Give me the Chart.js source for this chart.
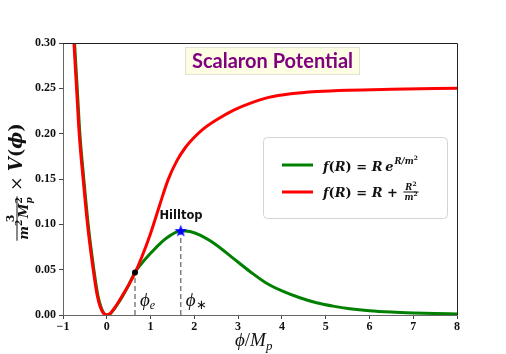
<!DOCTYPE html>
<html>
<head>
<meta charset="utf-8">
<script src="https://cdn.jsdelivr.net/npm/chart.js@4.4.1/dist/chart.umd.min.js"></script>
<style>
  html, body { margin: 0; padding: 0; background: #fff; }
  #chart { display: block; }
</style>
</head>
<body>
<canvas id="chart" width="506" height="354"></canvas>
<script>
// values
const redPhi = [-0.8, -0.75, -0.69, -0.63, -0.54, -0.44, -0.31, -0.22, -0.15, -0.08, 0, 0.08, 0.15, 0.25, 0.34, 0.5, 0.65, 0.8, 1.0, 1.2, 1.4, 1.6, 1.8, 2.0, 2.2, 2.5, 2.9, 3.3, 3.7, 4.2, 4.8, 5.5, 6.5, 8];
const redV   = [0.35, 0.30, 0.25, 0.20, 0.15, 0.10, 0.05, 0.022, 0.009, 0.0022, 0, 0.0018, 0.006, 0.013, 0.02, 0.033, 0.047, 0.064, 0.09, 0.12, 0.149, 0.17, 0.185, 0.196, 0.205, 0.215, 0.226, 0.234, 0.24, 0.244, 0.2465, 0.248, 0.249, 0.25];
const greenPhi = [-0.78, -0.735, -0.675, -0.615, -0.525, -0.425, -0.295, -0.205, -0.135, -0.07, 0, 0.09, 0.16, 0.26, 0.35, 0.5, 0.645, 0.8, 1.0, 1.2, 1.4, 1.69, 1.9, 2.13, 2.51, 2.89, 3.27, 3.65, 4.03, 4.41, 4.79, 5.2, 5.55, 6.0, 6.5, 7.0, 7.5, 8];
const greenV   = [0.35, 0.30, 0.25, 0.20, 0.15, 0.10, 0.05, 0.022, 0.009, 0.0022, 0, 0.0018, 0.006, 0.013, 0.02, 0.033, 0.047, 0.057, 0.068, 0.078, 0.086, 0.093, 0.092, 0.088, 0.077, 0.0625, 0.048, 0.035, 0.026, 0.019, 0.0135, 0.0095, 0.007, 0.0048, 0.0033, 0.0023, 0.0016, 0.0011];
const phiE = 0.645, vE = 0.047;
const phiStar = 1.69, vStar = 0.093;
const xMin = -1, xMax = 8, xStep = 1;
const yMin = 0, yMax = 0.30, yStep = 0.05;

const pts = (xs, ys) => xs.map((x, i) => ({ x, y: ys[i] }));

function starImage(size, color) {
  const c = document.createElement('canvas');
  c.width = c.height = size;
  const g = c.getContext('2d');
  g.fillStyle = color;
  g.beginPath();
  for (let i = 0; i < 10; i++) {
    const r = i % 2 ? size * 0.21 : size / 2;
    const a = -Math.PI / 2 + i * Math.PI / 5;
    g.lineTo(size / 2 + r * Math.cos(a), size / 2 + 0.6 + r * Math.sin(a));
  }
  g.closePath();
  g.fill();
  return c;
}

const SERIF = '"Liberation Serif"';
const DJ = '"DejaVu Serif"';
const it = (s, w = 'bold', fam = SERIF) => `${w} italic ${s}px ${fam}`;
const up = (s, w = 'bold', fam = SERIF) => `${w} ${s}px ${fam}`;

// draws [text, font, dy, noAdvance] runs left to right, returns end x
function runs(g, x, y, parts, measureOnly) {
  for (const [t, f, dy = 0, stay = false] of parts) {
    g.font = f;
    if (!measureOnly) g.fillText(t, x, y + dy);
    if (!stay) x += g.measureText(t).width;
  }
  return x;
}
const runsWidth = (g, parts) => runs(g, 0, 0, parts, true);

function fraction(g, x, y, num, den, gapUp, gapDown, measureOnly) {
  const wn = runsWidth(g, num), wd = runsWidth(g, den);
  const w = Math.max(wn, wd) + 2;
  if (!measureOnly) {
    runs(g, x + (w - wn) / 2, y - gapUp, num);
    runs(g, x + (w - wd) / 2, y + gapDown, den);
    g.fillRect(x, y - 0.5, w, 1);
  }
  return x + w;
}

const decor = {
  id: 'decor',
  afterDraw(chart) {
    const g = chart.ctx, a = chart.chartArea;
    const xs = chart.scales.x;
    g.save();
    // top and right spines
    g.strokeStyle = '#222';
    g.lineWidth = 1;
    g.beginPath();
    g.moveTo(a.left, a.top + 0.5); g.lineTo(a.right + 0.5, a.top + 0.5); g.lineTo(a.right + 0.5, a.bottom);
    g.stroke();

    // title box
    g.fillStyle = '#fdfde4';
    g.strokeStyle = '#e2e2d2';
    g.fillRect(185, 47, 175, 28);
    g.strokeRect(185.5, 47.5, 174, 27);
    g.fillStyle = '#800080';
    g.font = 'bold 20px Lato';
    g.textBaseline = 'alphabetic';
    g.textAlign = 'center';
    g.fillText('Scalaron Potential', 272.5, 68);
    g.textAlign = 'left';

    // legend box
    g.fillStyle = '#fff';
    g.strokeStyle = '#d4d4d4';
    g.beginPath();
    g.roundRect(263.5, 137.5, 184, 81, 4);
    g.fill(); g.stroke();
    g.lineWidth = 3;
    g.strokeStyle = '#008000';
    g.beginPath(); g.moveTo(282, 165); g.lineTo(313, 165); g.stroke();
    g.strokeStyle = '#ff0000';
    g.beginPath(); g.moveTo(282, 192); g.lineTo(313, 192); g.stroke();
    g.fillStyle = '#111';
    const L = (t, s) => [t, it(s, 'bold', DJ)];
    const U = (t, s) => [t, up(s, 'bold', DJ)];
    let x = runs(g, 323, 171, [L('f', 13), U('(', 13), L('R', 13), U(')', 13), U(' = ', 13), L('R', 13), U(' ', 8), L('e', 13)]);
    runs(g, x + 1, 171, [[...L('R/m', 8.5), -7], [...U('2', 6), -11]]);
    x = runs(g, 323, 197, [L('f', 13), U('(', 13), L('R', 13), U(')', 13), U(' = ', 13), L('R', 13), U(' + ', 13)]);
    fraction(g, x + 1, 192, [L('R', 8.5), [...U('2', 6), -4]], [L('m', 8.5), [...U('2', 6), -4]], 2, 8);

    // dashed guide labels
    const pe = xs.getPixelForValue(phiE), ps = xs.getPixelForValue(phiStar);
    runs(g, pe + 5, 306, [['ϕ', it(19, 'normal')], ['e', it(12, 'normal'), 3]]);
    runs(g, ps + 5, 306, [['ϕ', it(19, 'normal')], ['∗', up(13, 'normal'), 3]]);
    g.font = 'bold 11.5px "DejaVu Sans"';
    g.textAlign = 'center';
    g.fillText('Hilltop', 181, 219);
    g.textAlign = 'left';

    // x axis title
    runs(g, 235, 346, [['ϕ', it(19, 'normal')], ['/', up(19, 'normal')], ['M', it(19, 'normal')], ['p', it(13, 'normal'), 4]]);

    // y axis title, rotated
    g.translate(22, 182);
    g.rotate(-Math.PI / 2);
    const num = [U('3', 11)];
    const den = [L('m', 13), [...U('2', 9), -6], U(' ', 5), L('M', 13), [...U('2', 9), -6, true], [...L('p', 9), 4]];
    const rest = [[' × ', up(17, 'normal', DJ)], L('V', 18), U('(', 18), L('ϕ', 18), U(')', 18)];
    const fw = fraction(g, 0, 0, num, den, 0, 0, true);
    const total = fw + runsWidth(g, rest);
    const x0 = -total / 2;
    fraction(g, x0, -5, num, den, 3, 11);
    runs(g, x0 + fw, 0, rest);
    g.restore();
  }
};

new Chart(document.getElementById('chart'), {
  type: 'scatter',
  data: {
    datasets: [
      { data: pts(redPhi, redV), showLine: true, borderColor: '#ff0000', borderWidth: 3, pointRadius: 0, cubicInterpolationMode: 'monotone', clip: 0, order: 2 },
      { data: pts(greenPhi, greenV), showLine: true, borderColor: '#008000', borderWidth: 3, pointRadius: 0, cubicInterpolationMode: 'monotone', clip: 0, order: 3 },
      { data: pts([phiE, phiE], [0, vE]), showLine: true, borderColor: '#707070', borderWidth: 1.3, borderDash: [5, 3], pointRadius: 0, order: 4 },
      { data: pts([phiStar, phiStar], [0, vStar]), showLine: true, borderColor: '#707070', borderWidth: 1.3, borderDash: [5, 3], pointRadius: 0, order: 4 },
      { data: pts([phiE], [vE]), pointRadius: 3, pointBackgroundColor: '#000', pointBorderWidth: 0, order: 1 },
      { data: pts([phiStar], [vStar]), pointStyle: starImage(13, '#0000ff'), order: 0 }
    ]
  },
  options: {
    responsive: false,
    animation: false,
    devicePixelRatio: 1,
    layout: { padding: { top: 43, right: 49, left: 0, bottom: 0 } },
    plugins: { legend: { display: false }, tooltip: { enabled: false } },
    scales: {
      x: {
        type: 'linear', min: xMin, max: xMax,
        afterFit: (s) => { s.height = 39; },
        border: { color: '#666', width: 1 },
        grid: { drawOnChartArea: false, drawTicks: true, tickLength: 4, color: '#444' },
        ticks: { stepSize: xStep, padding: 1, color: '#111', font: { family: 'Liberation Serif', weight: 'bold', size: 12 },
          callback: (v) => (v < 0 ? '\u2212' + Math.abs(v) : String(v)) }
      },
      y: {
        type: 'linear', min: yMin, max: yMax,
        afterFit: (s) => { s.width = 63; },
        border: { color: '#666', width: 1 },
        grid: { drawOnChartArea: false, drawTicks: true, tickLength: 4, color: '#444' },
        ticks: { stepSize: yStep, padding: 3, color: '#111', font: { family: 'Liberation Serif', weight: 'bold', size: 12 },
          callback: (v) => Number(v).toFixed(2) }
      }
    }
  },
  plugins: [decor]
});
</script>
</body>
</html>
